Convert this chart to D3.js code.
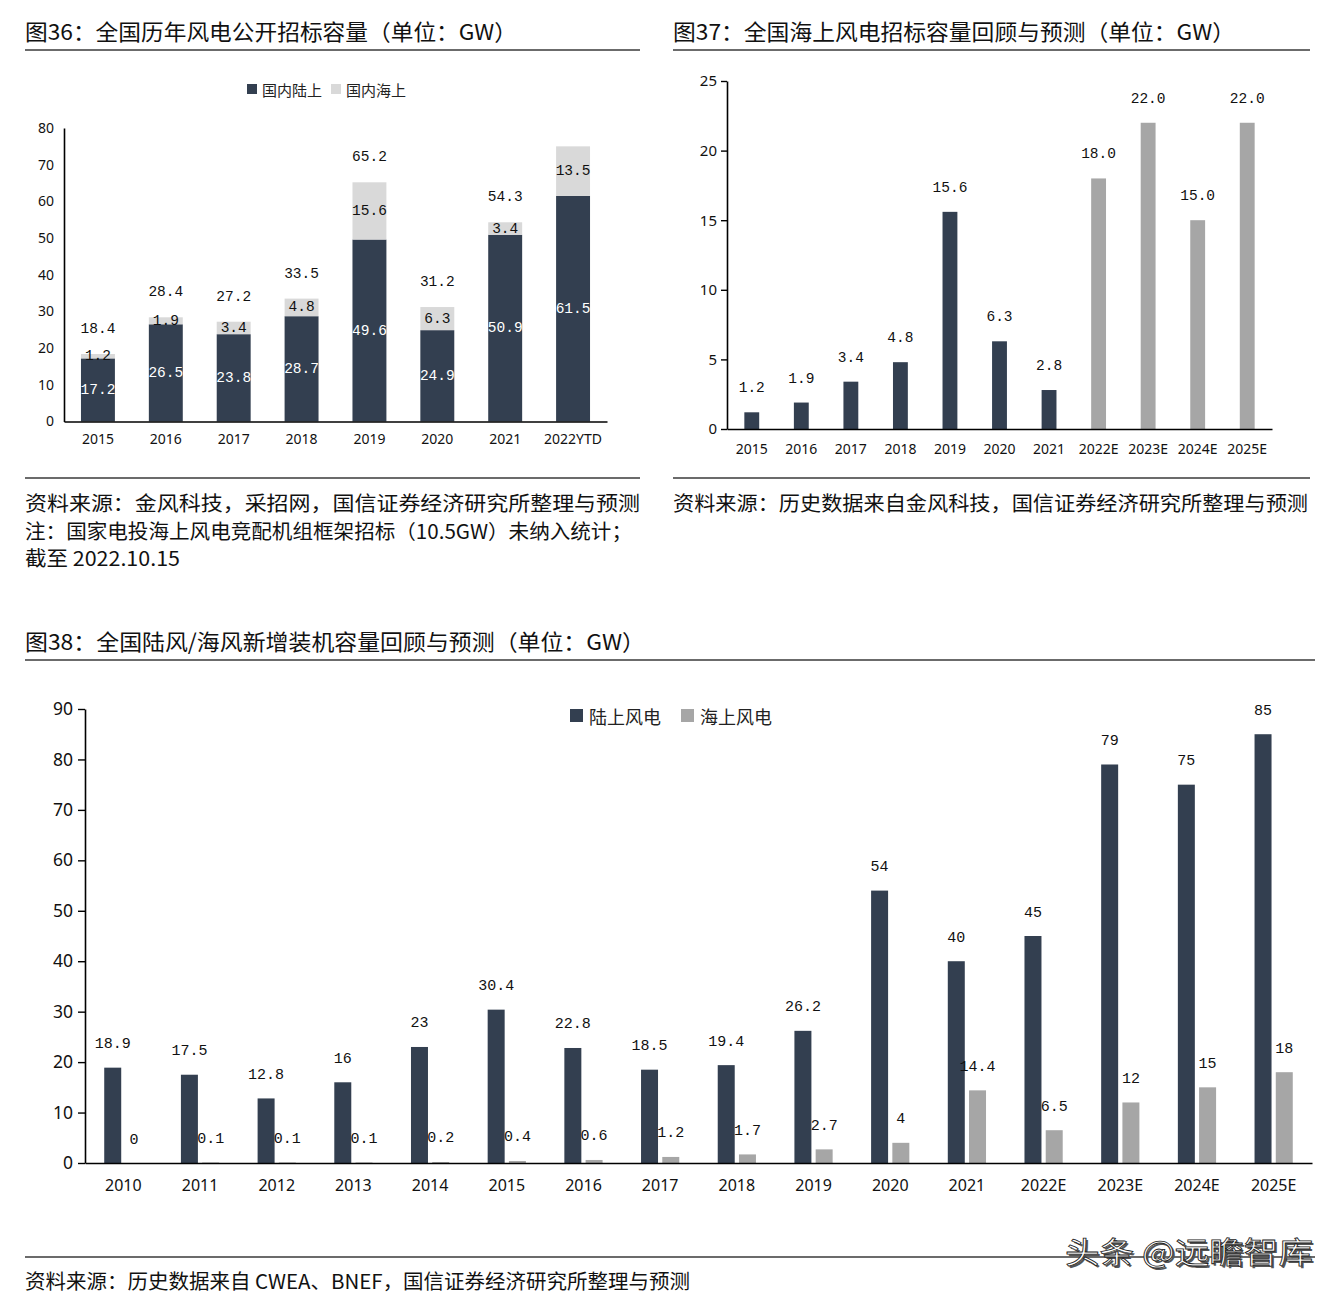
<!DOCTYPE html>
<html><head><meta charset="utf-8">
<script src="https://cdn.jsdelivr.net/npm/d3@7"></script>
<style>
body{margin:0;background:#fff}
svg{font-family:"Noto Sans CJK SC","Noto Sans",sans-serif}
</style>
</head><body>
<svg id="c" width="1343" height="1298"></svg>
<script>
// ---------- data ----------
const c36Years = ["2015","2016","2017","2018","2019","2020","2021","2022YTD"];
const c36Onshore = [17.2,26.5,23.8,28.7,49.6,24.9,50.9,61.5];
const c36Offshore = [1.2,1.9,3.4,4.8,15.6,6.3,3.4,13.5];
const c36Totals = [18.4,28.4,27.2,33.5,65.2,31.2,54.3,null];
const c36YTicks = [0,10,20,30,40,50,60,70,80];
const c36Legend = ["国内陆上","国内海上"];

const c37Years = ["2015","2016","2017","2018","2019","2020","2021","2022E","2023E","2024E","2025E"];
const c37Values = [1.2,1.9,3.4,4.8,15.6,6.3,2.8,18.0,22.0,15.0,22.0];
const c37YTicks = [0,5,10,15,20,25];

const c38Years = ["2010","2011","2012","2013","2014","2015","2016","2017","2018","2019","2020","2021","2022E","2023E","2024E","2025E"];
const c38Onshore = [18.9,17.5,12.8,16,23,30.4,22.8,18.5,19.4,26.2,54,40,45,79,75,85];
const c38Offshore = [0,0.1,0.1,0.1,0.2,0.4,0.6,1.2,1.7,2.7,4,14.4,6.5,12,15,18];
const c38YTicks = [0,10,20,30,40,50,60,70,80,90];
const c38Legend = ["陆上风电","海上风电"];

const titles = [
  {t:"图36：全国历年风电公开招标容量（单位：GW）", x:25, y:30, len:492},
  {t:"图37：全国海上风电招标容量回顾与预测（单位：GW）", x:673, y:30, len:562},
  {t:"图38：全国陆风/海风新增装机容量回顾与预测（单位：GW）", x:25, y:640, len:620}
];
const notes = [
  {t:"资料来源：金风科技，采招网，国信证券经济研究所整理与预测", x:25, y:502, len:615},
  {t:"注：国家电投海上风电竞配机组框架招标（10.5GW）未纳入统计；", x:25, y:530, len:607},
  {t:"截至 2022.10.15", x:25, y:557, len:155},
  {t:"资料来源：历史数据来自金风科技，国信证券经济研究所整理与预测", x:673, y:502, len:635},
  {t:"资料来源：历史数据来自 CWEA、BNEF，国信证券经济研究所整理与预测", x:25, y:1280, len:665}
];

// ---------- styles ----------
const DARK = "#333f50", LIGHT = "#d9d9d9", GREY = "#a6a6a6";
const numFont = '"Liberation Mono", "DejaVu Sans Mono", monospace';
const tickFont = '"Noto Sans", sans-serif';
const svg = d3.select("#c");

function rule(x1, x2, y) {
  svg.append("line").attr("x1", x1).attr("x2", x2).attr("y1", y).attr("y2", y)
    .attr("stroke", "#3a3a3a").attr("stroke-width", 1.3);
}
titles.forEach(d => {
  svg.append("text").attr("x", d.x).attr("y", d.y).attr("dominant-baseline", "central")
    .attr("font-size", 22).attr("fill", "#111").attr("textLength", d.len)
    .attr("lengthAdjust", "spacingAndGlyphs").text(d.t);
});
notes.forEach(d => {
  svg.append("text").attr("x", d.x).attr("y", d.y).attr("dominant-baseline", "central")
    .attr("font-size", 20).attr("fill", "#111").attr("textLength", d.len)
    .attr("lengthAdjust", "spacingAndGlyphs").text(d.t);
});
rule(25, 640, 50); rule(673, 1310, 50);
rule(25, 640, 478); rule(673, 1310, 478);
rule(25, 1315, 660); rule(25, 1315, 1257);

function styleAxis(g, size) {
  g.attr("font-family", null).attr("font-size", null);
  g.select(".domain").attr("stroke", "#000").attr("stroke-width", 1.6);
  g.selectAll(".tick line").attr("stroke", "#000").attr("stroke-width", 1.4);
  g.selectAll("text").style("font-family", tickFont).style("font-size", size + "px").attr("fill", "#111");
}
function valueLabel(g, x, y, txt, color, size) {
  g.append("text").attr("x", x).attr("y", y).attr("text-anchor", "middle")
    .attr("dominant-baseline", "central").style("font-family", numFont)
    .style("font-size", size + "px").attr("fill", color).text(txt);
}
const f1 = d3.format(".1f");

// ---------- Chart 36 ----------
{
  const g = svg.append("g");
  const x = d3.scaleBand().domain(c36Years).range([64, 607]).paddingInner(0.5).paddingOuter(0.25);
  const y = d3.scaleLinear().domain([0, 80]).range([421.5, 128]);
  c36Years.forEach((yr, i) => {
    const on = c36Onshore[i], off = c36Offshore[i];
    g.append("rect").attr("x", x(yr)).attr("width", x.bandwidth())
      .attr("y", y(on)).attr("height", y(0) - y(on)).attr("fill", DARK);
    g.append("rect").attr("x", x(yr)).attr("width", x.bandwidth())
      .attr("y", y(on + off)).attr("height", y(on) - y(on + off)).attr("fill", LIGHT);
    const cx = x(yr) + x.bandwidth() / 2;
    valueLabel(g, cx, (y(0) + y(on)) / 2, f1(on), "#fff", 14.5);
    valueLabel(g, cx, (y(on) + y(on + off)) / 2, f1(off), "#111", 14.5);
    if (c36Totals[i] != null) valueLabel(g, cx, y(c36Totals[i]) - 25, f1(c36Totals[i]), "#111", 14.5);
  });
  const ya = g.append("g").attr("transform", "translate(64,0)")
    .call(d3.axisLeft(y).tickValues(c36YTicks).tickSize(0).tickSizeOuter(0).tickPadding(10));
  styleAxis(ya, 14);
  const xa = g.append("g").attr("transform", "translate(0,421.5)")
    .call(d3.axisBottom(x).tickSize(0).tickSizeOuter(0).tickPadding(13));
  styleAxis(xa, 14);
  const lx = [247, 331], cols = [DARK, LIGHT];
  c36Legend.forEach((t, i) => {
    g.append("rect").attr("x", lx[i]).attr("y", 84).attr("width", 10).attr("height", 10).attr("fill", cols[i]);
    g.append("text").attr("x", lx[i] + 15).attr("y", 89).attr("dominant-baseline", "central")
      .attr("font-size", 15).attr("fill", "#222").text(t);
  });
}

// ---------- Chart 37 ----------
{
  const g = svg.append("g");
  const x = d3.scaleBand().domain(c37Years).range([727, 1272]).paddingInner(0.7).paddingOuter(0.35);
  const y = d3.scaleLinear().domain([0, 25]).range([429, 81]);
  c37Years.forEach((yr, i) => {
    const v = c37Values[i];
    const forecast = yr.endsWith("E");
    g.append("rect").attr("x", x(yr)).attr("width", x.bandwidth())
      .attr("y", y(v)).attr("height", y(0) - y(v)).attr("fill", forecast ? GREY : DARK);
    valueLabel(g, x(yr) + x.bandwidth() / 2, y(v) - 24, f1(v), "#111", 14.5);
  });
  const ya = g.append("g").attr("transform", "translate(727,0)")
    .call(d3.axisLeft(y).tickValues(c37YTicks).tickSize(6).tickSizeOuter(0).tickPadding(4));
  styleAxis(ya, 15);
  const xa = g.append("g").attr("transform", "translate(0,429)")
    .call(d3.axisBottom(x).tickSize(0).tickSizeOuter(0).tickPadding(15));
  styleAxis(xa, 14);
}

// ---------- Chart 38 ----------
{
  const g = svg.append("g");
  const x = d3.scaleBand().domain(c38Years).range([85, 1312]);
  const series = ["on", "off"];
  const xs = d3.scaleBand().domain(series).range([0, x.bandwidth()]).paddingInner(0.2).paddingOuter(0.905);
  const y = d3.scaleLinear().domain([0, 90]).range([1163, 709]);
  c38Years.forEach((yr, i) => {
    const vals = [c38Onshore[i], c38Offshore[i]];
    series.forEach((s, j) => {
      const v = vals[j];
      const bx = x(yr) + xs(s);
      g.append("rect").attr("x", bx).attr("width", xs.bandwidth())
        .attr("y", y(v)).attr("height", y(0) - y(v)).attr("fill", j === 0 ? DARK : GREY);
      valueLabel(g, bx + xs.bandwidth() / 2, y(v) - 23, String(v), "#111", 15);
    });
  });
  const ya = g.append("g").attr("transform", "translate(85,0)")
    .call(d3.axisLeft(y).tickValues(c38YTicks).tickSize(7).tickSizeOuter(0).tickPadding(5));
  styleAxis(ya, 17.5);
  const xa = g.append("g").attr("transform", "translate(0,1163)")
    .call(d3.axisBottom(x).tickSize(0).tickSizeOuter(0).tickPadding(17));
  styleAxis(xa, 16);
  const lx = [570, 681], cols = [DARK, GREY];
  c38Legend.forEach((t, i) => {
    g.append("rect").attr("x", lx[i]).attr("y", 709).attr("width", 13).attr("height", 13).attr("fill", cols[i]);
    g.append("text").attr("x", lx[i] + 19).attr("y", 715.5).attr("dominant-baseline", "central")
      .attr("font-size", 18).attr("fill", "#222").text(t);
  });
}

// ---------- watermark ----------
{
  const wm = "头条 @远瞻智库";
  svg.append("text").attr("x", 1067).attr("y", 1252).attr("dominant-baseline", "central")
    .attr("font-size", 30).attr("fill", "#555").attr("textLength", 248)
    .attr("lengthAdjust", "spacingAndGlyphs").text(wm);
  svg.append("text").attr("x", 1065).attr("y", 1250).attr("dominant-baseline", "central")
    .attr("font-size", 30).attr("fill", "#fff").attr("stroke", "#222").attr("stroke-width", 0.8)
    .attr("textLength", 248).attr("lengthAdjust", "spacingAndGlyphs").text(wm);
}
</script>
</body></html>
